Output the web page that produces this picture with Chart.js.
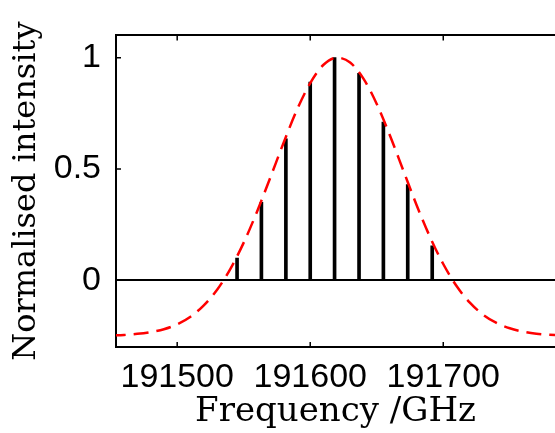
<!DOCTYPE html>
<html>
<head>
<meta charset="utf-8">
<script src="https://cdn.jsdelivr.net/npm/chart.js@4/dist/chart.umd.min.js"></script>
<style>
  html, body { margin: 0; padding: 0; background: #fff; }
  #wrap { width: 555px; height: 433px; }
</style>
</head>
<body>
<div id="wrap"><canvas id="chart" width="555" height="433"></canvas></div>
<script>
// fitted envelope (red dashed)
const envFreq = [191450, 191460, 191470, 191480, 191490, 191500, 191510, 191520, 191530, 191540,
                 191550, 191560, 191570, 191580, 191590, 191600, 191610, 191620, 191630, 191640,
                 191650, 191660, 191670, 191680, 191690, 191700, 191710, 191720, 191730, 191740,
                 191750, 191760, 191770, 191780, 191790];
const envValue = [-0.248, -0.246, -0.241, -0.233, -0.220, -0.198, -0.164, -0.113, -0.043, 0.051,
                  0.169, 0.308, 0.461, 0.618, 0.765, 0.886, 0.968, 1.000, 0.978, 0.906,
                  0.792, 0.649, 0.493, 0.337, 0.195, 0.073, -0.026, -0.101, -0.155, -0.192,
                  -0.216, -0.231, -0.240, -0.245, -0.247];

// comb lines (black stems)
const combFreq = [191545, 191563.3, 191581.7, 191600, 191618.3, 191636.7, 191655, 191673.3, 191691.7];
const combValue = [0.10, 0.35, 0.635, 0.89, 1.0, 0.93, 0.71, 0.43, 0.155];

const xTicks = [191500, 191600, 191700];
const yTicks = [0, 0.5, 1];

const tickFont = { family: '"Liberation Sans", Arial, sans-serif', size: 34 };
const titleFamily = '"DejaVu Serif", serif';

// MATLAB style: small tick marks pointing into the axes
const inwardTicks = {
  id: 'inwardTicks',
  afterDraw(chart) {
    const { ctx, chartArea: a, scales: { x, y } } = chart;
    ctx.save();
    ctx.strokeStyle = '#000';
    ctx.lineWidth = 1.5;
    ctx.beginPath();
    x.ticks.forEach(t => {
      const px = x.getPixelForValue(t.value);
      ctx.moveTo(px, a.bottom); ctx.lineTo(px, a.bottom - 5);
      ctx.moveTo(px, a.top); ctx.lineTo(px, a.top + 5);
    });
    y.ticks.forEach(t => {
      const py = y.getPixelForValue(t.value);
      ctx.moveTo(a.left, py); ctx.lineTo(a.left + 5, py);
    });
    ctx.stroke();
    ctx.restore();
  }
};

new Chart(document.getElementById('chart'), {
  type: 'line',
  data: {
    datasets: [
      {
        label: 'envelope',
        data: envFreq.map((f, i) => ({ x: f, y: envValue[i] })),
        borderColor: '#ff0000',
        borderWidth: 2.5,
        borderDash: [15, 8],
        pointRadius: 0,
        cubicInterpolationMode: 'monotone',
        fill: false
      },
      {
        type: 'bar',
        label: 'comb',
        data: combFreq.map((f, i) => ({ x: f, y: combValue[i] })),
        backgroundColor: '#000',
        borderWidth: 0,
        barThickness: 3
      }
    ]
  },
  options: {
    responsive: false,
    animation: false,
    layout: { padding: 0 },
    plugins: { legend: { display: false }, tooltip: { enabled: false } },
    scales: {
      x: {
        type: 'linear', position: 'bottom', min: 191454, max: 191784, offset: false,
        afterBuildTicks: s => { s.ticks = xTicks.map(v => ({ value: v })); },
        afterFit: s => { s.height = 86; },
        ticks: { font: tickFont, color: '#000', padding: 2, maxRotation: 0, autoSkip: false, callback: v => String(v) },
        grid: { display: false, offset: false },
        border: { display: true, color: '#000', width: 2 },
        title: { display: true, text: 'Frequency /GHz', color: '#000', font: { family: titleFamily, size: 34 }, padding: { top: 0, bottom: 0 } }
      },
      x2: {
        type: 'linear', position: 'top', min: 191454, max: 191784, offset: false,
        afterFit: s => { s.height = 35; },
        ticks: { display: false },
        grid: { display: false },
        border: { display: true, color: '#000', width: 2 }
      },
      y: {
        type: 'linear', min: -0.3, max: 1.1,
        afterBuildTicks: s => { s.ticks = yTicks.map(v => ({ value: v })); },
        afterFit: s => { s.width = 116; },
        ticks: { font: tickFont, color: '#000', padding: 15, callback: v => String(v) },
        grid: {
          drawTicks: false, lineWidth: 2,
          color: c => (c.tick && c.tick.value === 0) ? '#000' : 'rgba(0,0,0,0)'
        },
        border: { display: true, color: '#000', width: 2 },
        title: { display: true, text: 'Normalised intensity', color: '#000', font: { family: titleFamily, size: 32 }, padding: { top: 7, bottom: 0 } }
      }
    }
  },
  plugins: [inwardTicks]
});
</script>
</body>
</html>
